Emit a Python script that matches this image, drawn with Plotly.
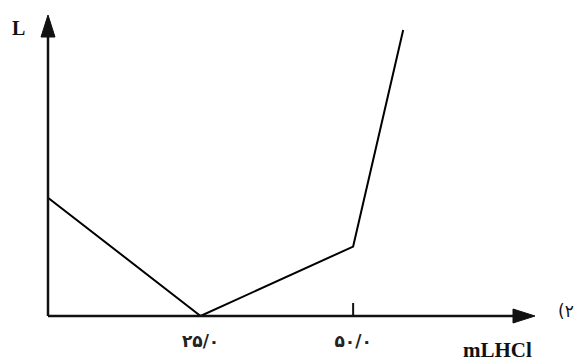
import plotly.graph_objects as go

# Titration curve: conductance L versus volume of HCl added (mL)
volume_ml = [0, 25, 50, 58.2]
conductance = [3.97, 0, 2.33, 9.6]
tick_values = [25, 50]
tick_labels = ["۲۵/۰", "۵۰/۰"]

x_end = 79.8
y_end = 10.1

fig = go.Figure()
fig.add_trace(go.Scatter(
    x=volume_ml, y=conductance, mode="lines",
    line=dict(color="black", width=2), hoverinfo="skip", showlegend=False,
))

axis_color = "#111111"
# Axis lines (paper coordinates so they are not clipped)
fig.add_shape(type="line", xref="paper", yref="paper", x0=0, y0=0, x1=0.97, y1=0,
              line=dict(color=axis_color, width=2.5))
fig.add_shape(type="line", xref="paper", yref="paper", x0=0, y0=0, x1=0, y1=0.95,
              line=dict(color=axis_color, width=2.5))
# Arrowheads anchored at the axis tips, sized in pixels
fig.add_shape(type="path", xref="paper", yref="paper",
              xsizemode="pixel", ysizemode="pixel", xanchor=1, yanchor=0,
              path="M 0 0 L -22 7 L -22 -7 Z",
              fillcolor=axis_color, line=dict(color=axis_color, width=1))
fig.add_shape(type="path", xref="paper", yref="paper",
              xsizemode="pixel", ysizemode="pixel", xanchor=0, yanchor=1,
              path="M 0 0 L -7 -22 L 7 -22 Z",
              fillcolor=axis_color, line=dict(color=axis_color, width=1))
# Single tick mark at 50 mL
fig.add_shape(type="line", xref="x", yref="y", ysizemode="pixel", yanchor=0,
              x0=tick_values[1], x1=tick_values[1], y0=0, y1=13,
              line=dict(color=axis_color, width=2))

serif = "Liberation Serif, DejaVu Serif, serif"
label_common = dict(xref="paper", yref="paper", showarrow=False,
                    xanchor="center", yanchor="middle")
fig.add_annotation(x=-0.060, y=0.957, text="<b>L</b>",
                   font=dict(family=serif, size=20, color="#111"), **label_common)
fig.add_annotation(x=0.922, y=-0.112, text="<b>mLHCl</b>",
                   font=dict(family=serif, size=21, color="#111"), **label_common)
fig.add_annotation(x=1.064, y=0.017, text="(۲",
                   font=dict(family="DejaVu Sans, sans-serif", size=17, color="#111"),
                   **label_common)

fig.update_xaxes(range=[0, x_end], showgrid=False, zeroline=False, showline=False,
                 tickvals=tick_values, ticktext=[f"<b>{t}</b>" for t in tick_labels],
                 ticks="", ticklabelstandoff=13,
                 tickfont=dict(family="DejaVu Sans, sans-serif", size=17, color="#222"))
fig.update_yaxes(range=[0, y_end], showgrid=False, zeroline=False, showline=False,
                 showticklabels=False, ticks="")

fig.update_layout(
    width=583, height=363,
    margin=dict(l=48, r=48, t=15, b=45),
    paper_bgcolor="white", plot_bgcolor="white",
)

fig.write_html("out.html")
